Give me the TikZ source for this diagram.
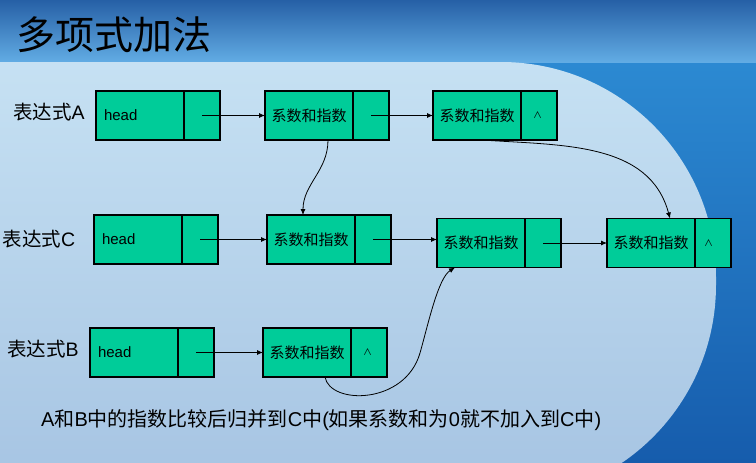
\documentclass[tikz,border=0pt]{standalone}
\usepackage{fontspec}
\setmainfont{Liberation Sans}
\newfontfamily\cjk{Noto Sans CJK SC}
\usepackage{tikz}
\usetikzlibrary{arrows.meta,positioning}
\definecolor{llfill}{RGB}{0,204,153}
\definecolor{bgtop}{RGB}{38,96,166}
\definecolor{bgband}{RGB}{98,172,228}
\definecolor{bgside}{RGB}{45,140,212}
\definecolor{bgsidelo}{RGB}{22,92,172}
\definecolor{bglight}{RGB}{198,225,243}
\definecolor{bglightlo}{RGB}{165,195,226}
\tikzset{
  fld/.style={
    draw=black, fill=llfill, line width=1.1pt, outer sep=0pt,
    minimum width=88pt, minimum height=49pt, inner sep=0pt,
    font=\fontsize{15}{17}\selectfont\cjk
  },
  hd/.style={fld, font=\fontsize{15}{17}\selectfont, align=left, text width=72pt},
  ptr/.style={
    draw=black, fill=llfill, line width=1.1pt, outer sep=0pt,
    minimum width=36pt, minimum height=49pt, inner sep=0pt
  },
  nilmk/.style={font=\fontsize{9}{9}\selectfont\cjk, inner sep=0pt},
  rowlbl/.style={font=\fontsize{19.5}{21}\selectfont, inner sep=0pt},
  arr/.style={-{Latex[length=6pt,width=5pt]}, draw=black, line width=0.8pt}
}

\begin{document}
\begin{tikzpicture}[x=1pt,y=1pt]
  % background
  \useasboundingbox (0,0) rectangle (756,-463);
  \clip (0,0) rectangle (756,-463);
  \shade[top color=bgside, bottom color=bgsidelo] (0,-40) rectangle (756,-463);
  \shade[top color=bgtop, bottom color=bgband] (0,0) rectangle (756,-62);
  \shade[top color=bglight, bottom color=bglightlo, rounded corners=215pt] (-400,-62) rectangle (716,-500);

  \node[font=\fontsize{39}{41}\selectfont\cjk, inner sep=0pt] (ttl) at (114,-35) {多项式加法};

  % expression A
  \node[rowlbl] (la) at (49,-112) {{\cjk 表达式}A};
  \node[hd, anchor=west] (ah) at (96,-115.5) {head};
  \node[ptr, right=0pt of ah] (ahp) {};
  \node[fld, anchor=west] (a1) at (265,-115.5) {系数和指数};
  \node[ptr, right=0pt of a1] (a1p) {};
  \node[fld, anchor=west] (a2) at (433,-115.5) {系数和指数};
  \node[ptr, right=0pt of a2] (a2p) {};
  \node[nilmk, right=12pt of a2p.west] (a2n) {∧};
  \draw[arr] (ahp.center) -- (ahp.center -| a1.west);
  \draw[arr] (a1p.center) -- (a1p.center -| a2.west);

  % expression C
  \node[rowlbl] (lc) at (39,-239) {{\cjk 表达式}C};
  \node[hd, anchor=west] (ch) at (94,-239.5) {head};
  \node[ptr, right=0pt of ch] (chp) {};
  \node[fld, anchor=west] (c1) at (267,-239.5) {系数和指数};
  \node[ptr, right=0pt of c1] (c1p) {};
  \node[fld, anchor=west] (c2) at (437,-243) {系数和指数};
  \node[ptr, right=0pt of c2] (c2p) {};
  \node[fld, anchor=west] (c3) at (607,-243) {系数和指数};
  \node[ptr, right=0pt of c3] (c3p) {};
  \node[nilmk, right=9pt of c3p.west] (c3n) {∧};
  \draw[arr] (chp.center) -- (chp.center -| c1.west);
  \draw[arr] (c1p.center) -- (c1p.center -| c2.west);
  \draw[arr] (c2p.center) -- (c2p.center -| c3.west);

  % expression B
  \node[rowlbl] (lb) at (43,-349) {{\cjk 表达式}B};
  \node[hd, anchor=west] (bh) at (90,-352.5) {head};
  \node[ptr, right=0pt of bh] (bhp) {};
  \node[fld, anchor=west] (b1) at (263,-352.5) {系数和指数};
  \node[ptr, right=0pt of b1] (b1p) {};
  \node[nilmk, right=12pt of b1p.west] (b1n) {∧};
  \draw[arr] (bhp.center) -- (bhp.center -| b1.west);

  % merge links
  \draw[arr] ([xshift=19pt]a1.south) to[out=-90,in=90] ([xshift=-8pt]c1.north);
  \draw[arr] ([xshift=5pt]a2.south) to[out=-4,in=105] ([xshift=19pt]c3.north);
  \coordinate (bturn) at (420,-353);
  \draw[arr] ([xshift=18pt]b1.south) .. controls (330,-405) and (405,-405) .. (bturn)
    .. controls (428,-325) and (438,-278) .. ([xshift=18pt]c2.south west);

  \node[font=\fontsize{20}{22}\selectfont, anchor=west, inner sep=0pt] (note) at (41,-420)
    {A{\cjk 和}B{\cjk 中的指数比较后归并到}C{\cjk 中}({\cjk 如果系数和为}0{\cjk 就不加入到}C{\cjk 中})};
\end{tikzpicture}
\end{document}
